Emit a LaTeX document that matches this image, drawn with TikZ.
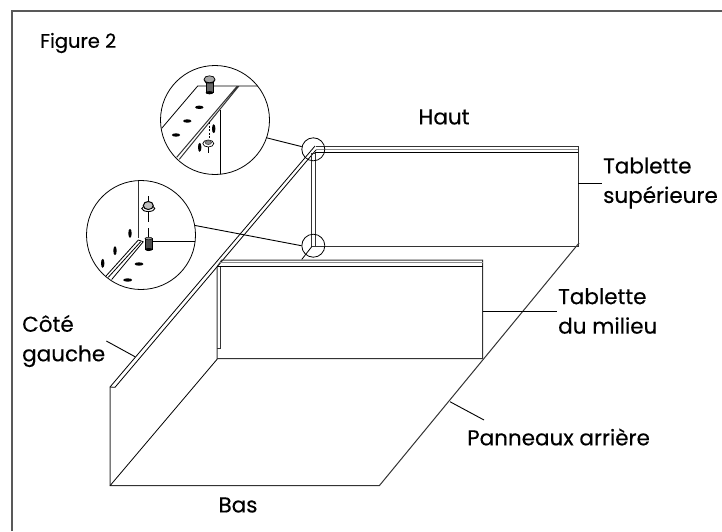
\documentclass[tikz,border=0pt]{standalone}
\usepackage{fontspec}
\setmainfont[FakeBold=0.35]{Poppins}
\usetikzlibrary{positioning}
\begin{document}
\begin{tikzpicture}[x=1pt,y=-1pt]
        \tikzset{edge/.style={draw=black!80,line width=1pt},
        thin edge/.style={draw=black,line width=0.8pt},
        leader/.style={draw=black,line width=0.9pt},
        lens/.style={draw=black,circle,line width=0.8pt,inner sep=0pt},
        callout/.style={align=left,font=\fontsize{21.5}{29.5}\selectfont,inner sep=1pt,text=black},
        hole/.style={fill=black},
        }
        \useasboundingbox (0,0) rectangle (722,531);
        \path[draw=black!65,line width=1.2pt] (12,531) -- (12,11) -- (722,11);

        %% corners of the unit
        \coordinate (sidetop) at (110,387);
        \coordinate (sidebase) at (110,485.7);
        \coordinate (basefront) at (379.3,485.7);
        \coordinate (baseback) at (217.3,359);
        \coordinate (backright) at (579,243);
        \coordinate (midnotch) at (311.7,246.7);
        \coordinate (midbehind) at (301.7,259.5);

        %% labels
        \node [callout,font=\fontsize{19.5}{24}\selectfont,right] (figlabel) at (39,43) {Figure 2};
        \node [callout] (hautlabel) at (444,117) {Haut};
        \node [callout,right] (tabsuplabel) at (602,183) {Tablette\\supérieure};
        \node [callout,right] (tabmidlabel) at (557,311) {Tablette\\du milieu};
        \node [callout,right] (cotelabel) at (21,341) {Côté\\gauche};
        \node [callout,right] (panlabel) at (466,437) {Panneaux arrière};
        \node [callout] (baslabel) at (238,505) {Bas};

        %% side and base
        \path[edge] (sidetop) -- (sidebase) -- (basefront) -- (backright);
        \path[thin edge] (sidebase) -- (baseback);
        \path[thin edge] (sidetop) -- (315,146);
        \path[thin edge] (115,387.3) -- (316,150);
        \path[thin edge] (sidetop) -- (115,387.3);

        %% top shelf
        \path[edge] (316,146.5) -- (578,146.5) -- (578,246.7) -- (midnotch);
        \path[draw=black!45,line width=0.6pt] (316,149) -- (578,149);
        \path[draw=black,line width=0.9pt] (315,152.3) -- (578,152.3);
        \path[edge] (311.7,246.7) -- (311.7,153) -- (315.3,153) -- (315.3,246.7);
        \path[thin edge] (midnotch) -- (midbehind);

        %% middle shelf
        \path[edge] (217,359) -- (217,267) -- (221.7,260) -- (482.7,260) -- (482.7,358.7) -- (217,358.7);
        \path[draw=black!45,line width=0.6pt] (219,262) -- (482.7,262);
        \path[draw=black,line width=0.9pt] (217,266.4) -- (482.7,266.4);
        \path[edge] (220,267) -- (220,348) -- (217,348);

        %% leaders
        \coordinate (tabsupedge) at (578,183.3);
        \coordinate (tabmidedge) at (482.7,311.7);
        \coordinate (cotefoot) at (135,356.7);
        \coordinate (panfoot) at (450,401.7);
        \coordinate (panhead) at (484,420);
        \path[leader] (tabsupedge) -- (tabsupedge -| tabsuplabel.west);
        \path[leader] (tabmidedge) -- (tabmidedge -| tabmidlabel.west);
        \path[leader] (cotelabel.east) -- (cotefoot);
        \path[leader] (panfoot) -- (panhead);

        %% detail circles
        \node [lens,minimum size=23pt] (spottop) at (313.3,149.3) {};
        \node [lens,minimum size=23pt] (spotmid) at (313.3,245.7) {};
        \node [lens,minimum size=109pt] (zoomtop) at (215,120) {};
        \node [lens,minimum size=109pt] (zoommid) at (141,235) {};
        \path[leader] (zoomtop.-19) -- (spottop.167);
        \path[leader] (zoommid.10) -- (spotmid.180);

        %% inside the upper circle
        \begin{scope}
        \clip (215,120) circle (54.5);
        \path[thin edge] (161.7,128.3) -- (197.7,86) -- (275,86);
        \path[edge] (176.7,157.3) -- (236.7,86.7) -- (238.3,86.7) -- (179.3,159.3);
        \path[thin edge] (220.3,110) -- (220.3,180);
        \foreach \x/\y in {199.3/107.3,187.3/121,176/135}
            \path[hole] (\x,\y) ellipse (4.2 and 1.7);
        \foreach \x/\y in {213.7/128.7,199.7/147.3}
            \path[hole] (\x,\y) ellipse (1.7 and 4.5);
        \path[draw=black,line width=0.6pt,dash pattern=on 2pt off 1.5pt] (209.3,122) -- (209.3,138);
        \path[thin edge] (208.3,146) -- (208.3,152.7);
        \path[draw=black,fill=white,line width=0.7pt] (208.3,143.5) ellipse (5.5 and 3.5);
        \path[draw=black!70,fill=black!45,line width=0.7pt] (208.3,142.5) ellipse (3.2 and 2);
        \path[draw=black,fill=black!60,line width=0.6pt] (206,82) rectangle (213,92);
        \path[hole] (209.5,92.7) ellipse (3.8 and 1.6);
        \path[draw=black,fill=black!35,line width=0.7pt] (209.5,79.3) ellipse (5.5 and 3.5);
        \path[draw=black,line width=0.6pt] (204,80) -- (206,83) -- (213,83) -- (215,80);
        \end{scope}

        %% inside the lower circle
        \begin{scope}
        \clip (141,235) circle (54.5);
        \path[edge] (138,180.7) -- (138,238.3);
        \path[thin edge] (151.7,241.7) -- (197,241.7);
        \path[thin edge] (138.3,240) -- (106,276);
        \path[thin edge] (140.7,241.7) -- (108.3,277.3);
        \path[thin edge] (143.3,241.7) -- (111.7,279.5);
        \path[thin edge] (138.3,240) -- (143.3,241.7);
        \foreach \x/\y in {130/233.3,115/250.7,102.7/263.3}
            \path[hole] (\x,\y) ellipse (1.7 and 4.5);
        \foreach \x/\y in {139/264,127.7/280}
            \path[hole] (\x,\y) ellipse (4.5 and 1.7);
        \path[thin edge] (148.3,196) -- (148.3,203);
        \path[thin edge] (148.3,212) -- (148.3,221.7);
        \path[thin edge] (148.3,228.3) -- (148.3,238);
        \path[draw=black,fill=white,line width=0.9pt] (148.3,208.5) ellipse (6.5 and 3);
        \path[draw=black,fill=black!25,line width=1pt] (148.3,205.5) ellipse (5 and 4);
        \path[draw=black,fill=black!70,line width=0.6pt] (145,238.5) rectangle (152.5,249);
        \path[hole] (148.7,249.5) ellipse (3.7 and 1.5);
        \path[draw=black,fill=black!40,line width=0.5pt] (148.7,238.5) ellipse (3.7 and 1.3);
        \end{scope}
    \end{tikzpicture}
\end{document}
